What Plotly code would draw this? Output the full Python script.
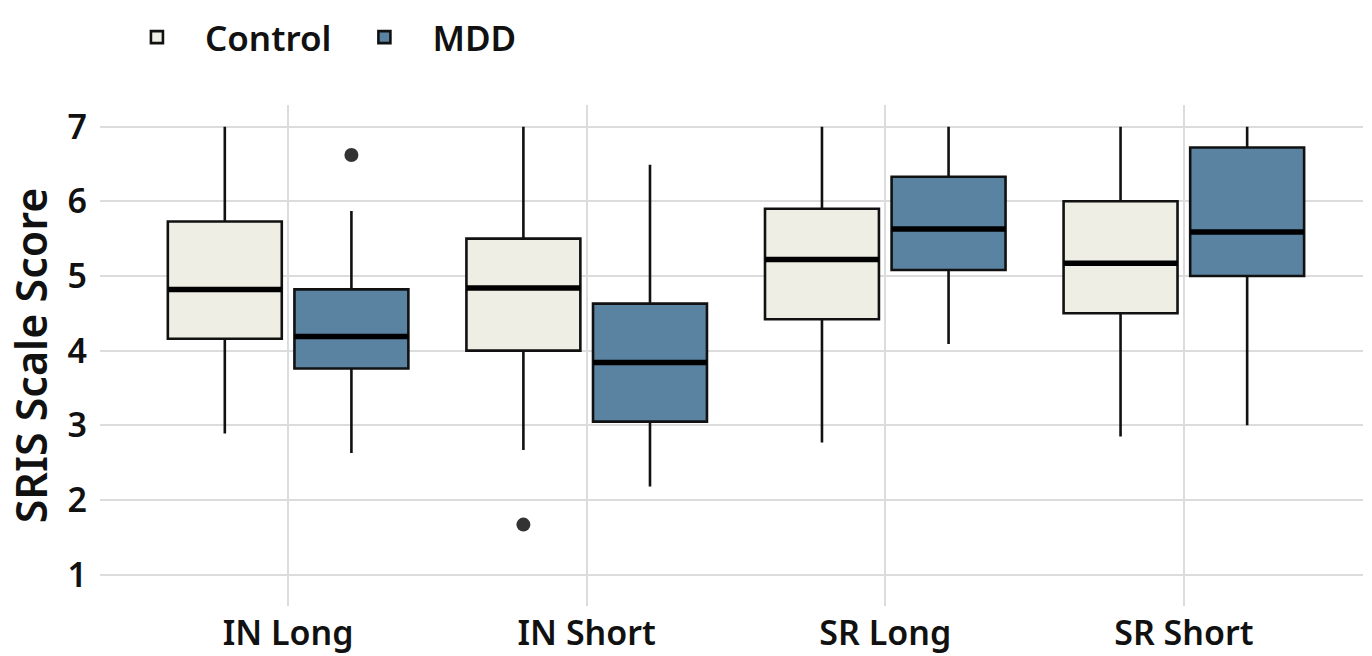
import plotly.graph_objects as go

categories = ["IN Long", "IN Short", "SR Long", "SR Short"]

# Control group stats
ctrl_lower = [2.89, 2.67, 2.77, 2.85]
ctrl_q1 = [4.16, 4.00, 4.42, 4.50]
ctrl_median = [4.82, 4.84, 5.22, 5.17]
ctrl_q3 = [5.73, 5.50, 5.90, 6.00]
ctrl_upper = [7.00, 7.00, 7.00, 7.00]
ctrl_outlier_cats = ["IN Short"]
ctrl_outlier_vals = [1.67]

# MDD group stats
mdd_lower = [2.63, 2.18, 4.09, 3.00]
mdd_q1 = [3.76, 3.05, 5.08, 5.00]
mdd_median = [4.19, 3.84, 5.63, 5.59]
mdd_q3 = [4.82, 4.63, 6.33, 6.72]
mdd_upper = [5.87, 6.49, 7.00, 7.00]
mdd_outlier_cats = ["IN Long"]
mdd_outlier_vals = [6.62]

groups = ["Control", "MDD"]
fills = ["#EEEEE5", "#5A82A1"]

FONT = "Noto Sans"

fig = go.Figure()
stats = [
    (ctrl_lower, ctrl_q1, ctrl_median, ctrl_q3, ctrl_upper),
    (mdd_lower, mdd_q1, mdd_median, mdd_q3, mdd_upper),
]
outliers = [(ctrl_outlier_cats, ctrl_outlier_vals), (mdd_outlier_cats, mdd_outlier_vals)]

for name, fill, (lo, q1, med, q3, up) in zip(groups, fills, stats):
    fig.add_trace(go.Box(
        name=name,
        x=categories,
        q1=q1, median=med, q3=q3, lowerfence=lo, upperfence=up,
        fillcolor=fill,
        line=dict(color="#111111", width=2.6),
        boxpoints=False,
        whiskerwidth=0,
        offsetgroup=name,
        hoverinfo="skip",
    ))
# thick median lines
for name, med in zip(groups, [ctrl_median, mdd_median]):
    fig.add_trace(go.Box(
        name=name,
        x=categories,
        q1=med, median=med, q3=med, lowerfence=med, upperfence=med,
        fillcolor="rgba(0,0,0,0)",
        line=dict(color="#000000", width=5.5),
        boxpoints=False,
        whiskerwidth=0,
        offsetgroup=name,
        showlegend=False,
        hoverinfo="skip",
    ))
# outlier points
for name, (ocats, ovals) in zip(groups, outliers):
    fig.add_trace(go.Box(
        name=name,
        x=ocats,
        y=ovals,
        fillcolor="rgba(0,0,0,0)",
        line=dict(color="rgba(0,0,0,0)", width=0),
        marker=dict(color="#333333", size=14, line=dict(width=0)),
        boxpoints="all", jitter=0, pointpos=0,
        whiskerwidth=0,
        offsetgroup=name,
        showlegend=False,
        hoverinfo="skip",
    ))

fig.update_layout(
    width=1372, height=656,
    margin=dict(l=100, r=9, t=105, b=50),
    paper_bgcolor="white", plot_bgcolor="white",
    boxmode="group", boxgap=0.152, boxgroupgap=0.1,
    font=dict(family=FONT, color="#111111"),
    showlegend=True,
    legend=dict(
        orientation="h", x=0.0794, xref="container", xanchor="left",
        y=0.988, yref="container", yanchor="top",
        font=dict(size=35, family=FONT, weight=600, color="#111111"),
        itemwidth=86,
        traceorder="normal",
    ),
    xaxis=dict(
        type="category", categoryorder="array", categoryarray=categories,
        range=[-0.63, 3.6],
        showgrid=True, gridcolor="#DCDCDC", gridwidth=2,
        showline=False, zeroline=False, ticks="",
        ticklabelstandoff=4, automargin=False,
        tickfont=dict(size=34, family=FONT, weight=600, color="#111111"),
    ),
    yaxis=dict(
        range=[0.58, 7.29],
        tickvals=[1, 2, 3, 4, 5, 6, 7],
        showgrid=True, gridcolor="#DCDCDC", gridwidth=2,
        showline=False, zeroline=False, ticks="",
        ticklabelstandoff=12, automargin=False,
        tickfont=dict(size=34, family=FONT, weight=600, color="#111111"),
        title=dict(text="SRIS Scale Score", font=dict(size=43, family=FONT, weight=600, color="#111111"), standoff=6),
    ),
)

fig.write_html("out.html")
